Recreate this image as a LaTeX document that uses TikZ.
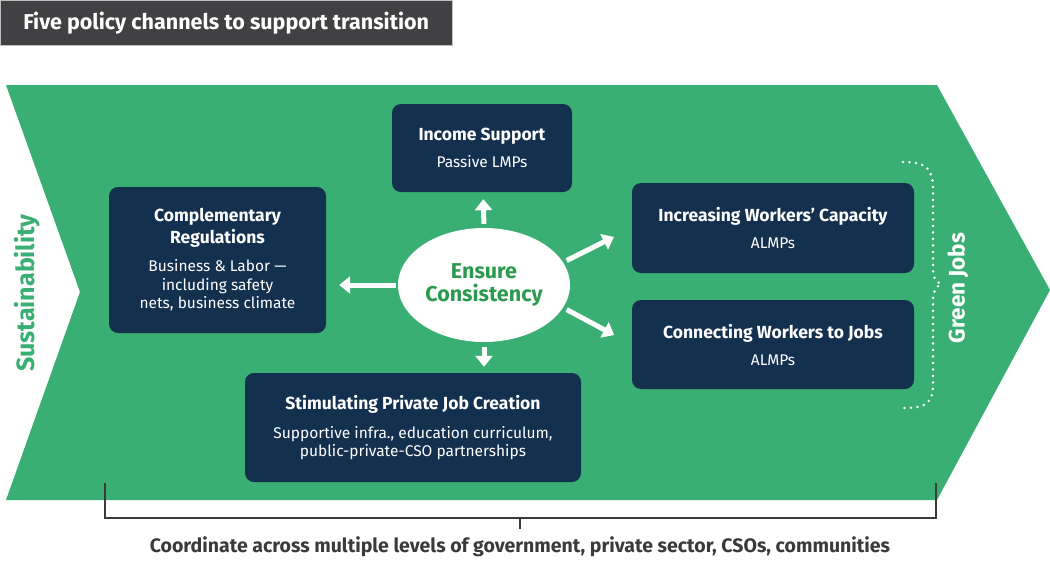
\documentclass[tikz,border=0pt]{standalone}
\usepackage{fontspec}
\setmainfont{Fira Sans}
\usepackage{xcolor}
\usetikzlibrary{arrows.meta,shapes.geometric,calc}

\definecolor{chevgreen}{HTML}{3AAF73}
\definecolor{hubgreen}{HTML}{2B9A4E}
\definecolor{navy}{HTML}{13304F}
\definecolor{titlegray}{HTML}{414042}
\definecolor{inkgray}{HTML}{3A3A3C}

\newcommand{\chead}[1]{{\bfseries\fontsize{17.5}{21}\selectfont #1}}

\begin{document}
\begin{tikzpicture}[
      x=1pt, y=-1pt,
      channel/.style={fill=navy, rounded corners=9pt, align=center, text=white,
        inner sep=4pt, font=\fontsize{15.5}{18}\selectfont},
      hub/.style={ellipse, fill=white, minimum width=172pt, minimum height=114pt,
        inner sep=0pt, align=center, text=hubgreen,
        font=\bfseries\fontsize{21.5}{23}\selectfont},
      wharrow/.style={-{Triangle[length=11pt, width=17pt]}, line width=5pt, draw=white},
      sidelabel/.style={rotate=90, font=\bfseries\fontsize{25}{28}\selectfont},
      bracket/.style={draw=inkgray, line width=1.3pt}
    ]
    \useasboundingbox (0,0) rectangle (1050,560);

    % title tab
    \node[fill=titlegray, draw=black!25, minimum width=452pt, minimum height=45pt,
      inner sep=0pt, anchor=north west, text=white,
      font=\bfseries\fontsize{21.5}{24}\selectfont] (title) at (0,0)
      {Five policy channels to support transition};

    % green chevron band
    \fill[chevgreen] (6,85) -- (937,85) -- (1050,290) -- (937,500)
      -- (6,500) -- (80,292) -- cycle;

    \node[sidelabel, text=chevgreen] (sustain) at (27,293) {Sustainability};
    \node[sidelabel, text=white, font=\bfseries\fontsize{22.5}{26}\selectfont]
      (greenjobs) at (958,288) {Green Jobs};

    % the five channels
    \node[channel, minimum width=180pt, minimum height=88pt] (income) at (482,148)
      {\chead{Income Support}\\[9pt]Passive LMPs};
    \node[channel, minimum width=217pt, minimum height=146pt] (compreg) at (217.5,260)
      {\chead{Complementary}\\[3pt]\chead{Regulations}\\[10pt]Business \& Labor ---\\[0.5pt]including safety\\[0.5pt]nets, business climate};
    \node[channel, minimum width=282pt, minimum height=90pt] (capacity) at (773,228)
      {\chead{Increasing Workers' Capacity}\\[9pt]ALMPs};
    \node[channel, minimum width=282pt, minimum height=89pt] (connect) at (773,344.5)
      {\chead{Connecting Workers to Jobs}\\[9pt]ALMPs};
    \node[channel, minimum width=336pt, minimum height=109pt] (stimul) at (413,427.5)
      {\chead{Stimulating Private Job Creation}\\[11pt]Supportive infra., education curriculum,\\public-private-CSO partnerships};

    \node[hub] (hub) at (484,285) {Ensure\\Consistency};

    \draw[wharrow, shorten <=4pt, shorten >=7pt] (hub.north) -- (income);
    \draw[wharrow, shorten <=5pt, shorten >=6pt] (hub.south) -- (hub.south |- stimul.north);
    \draw[wharrow, shorten <=2pt, shorten >=13pt] (hub.west) -- (hub.west -| compreg.east);
    \draw[wharrow, shorten <=4pt, shorten >=20pt] (hub.16) -- (capacity.west);
    \draw[wharrow, shorten <=4pt, shorten >=20pt] (hub.-16) -- (connect.west);

    % dotted brace round the job channels
    \draw[white, line width=2.8pt, line cap=round, dash pattern=on 0pt off 6.5pt]
      (903,162) .. controls (928,162) and (933,170) .. (933,190) -- (933,268)
      .. controls (933,278) and (936,282) .. (941,284)
      .. controls (936,287) and (933,291) .. (933,300) -- (933,383)
      .. controls (933,402) and (928,408) .. (903,408);

    % coordination bracket
    \draw[bracket] (105,483) -- (105,518) -- (936,518) -- (936,483);
    \draw[bracket] (520,518) -- (520,529);
    \node[text=inkgray, font=\bfseries\fontsize{19.5}{22}\selectfont] (coord) at (520,547)
      {Coordinate across multiple levels of government, private sector, CSOs, communities};
  \end{tikzpicture}
\end{document}
